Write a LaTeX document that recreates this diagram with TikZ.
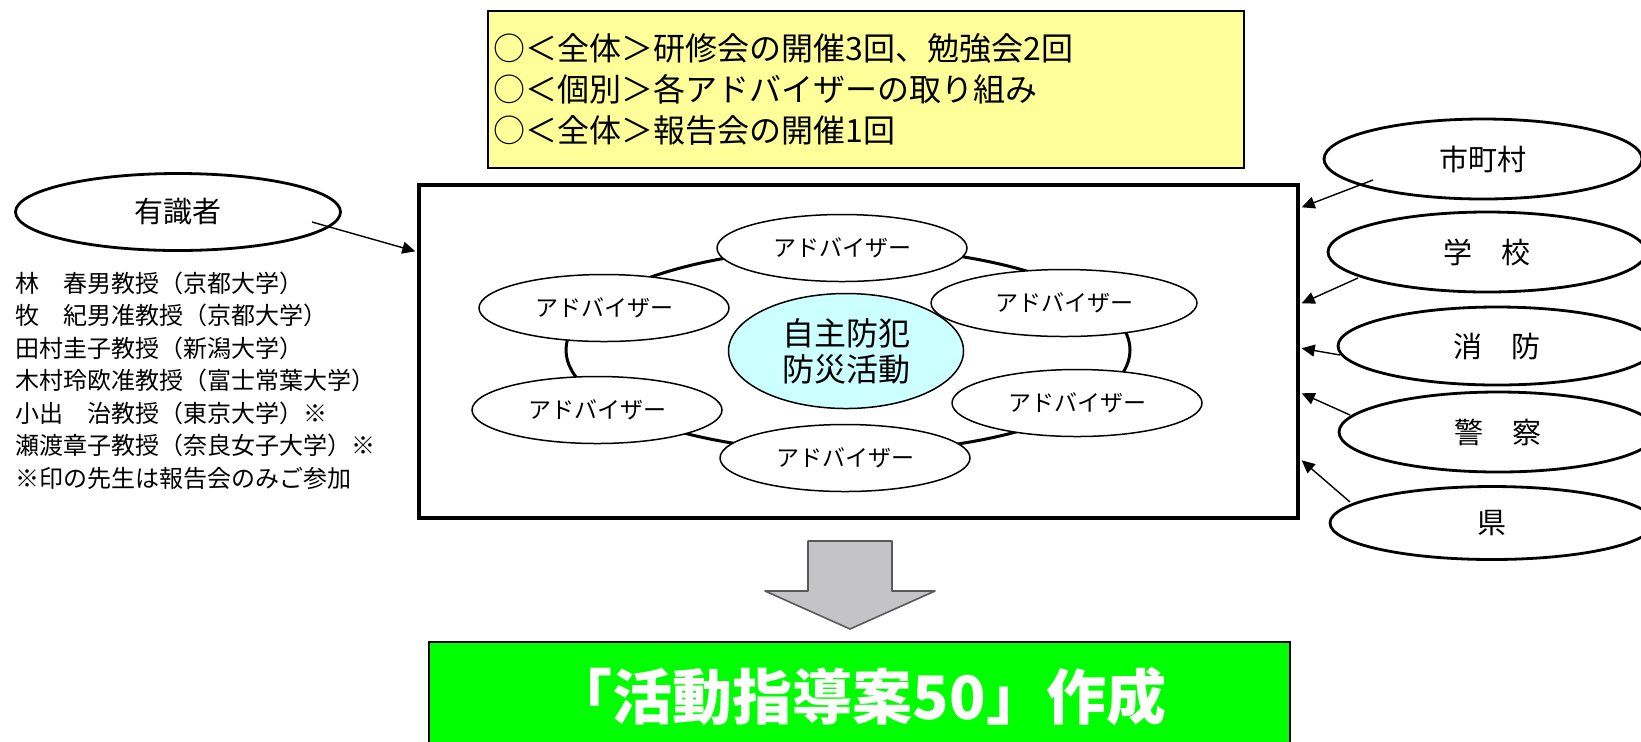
\documentclass[tikz,border=0pt]{standalone}
\usepackage{fontspec}
\setmainfont{Noto Sans CJK JP}
\usetikzlibrary{shapes.geometric,arrows.meta}

\definecolor{planyellow}{HTML}{FFFF99}
\definecolor{corecyan}{HTML}{CCFFFF}
\definecolor{resultgreen}{HTML}{00FF00}
\definecolor{arrowgray}{HTML}{C4C3C8}

\tikzset{
  adviser/.style={draw, ellipse, fill=white, line width=0.75pt, inner sep=0pt,
    minimum width=125pt, minimum height=33.5pt, font=\fontsize{11.5}{13}\selectfont},
  partner/.style={draw, ellipse, line width=1.4pt, inner sep=0pt,
    minimum width=159pt, minimum height=40pt, font=\fontsize{14.5}{16}\selectfont},
  link/.style={line width=0.7pt, -{Triangle[length=6.5pt,width=6pt]}},
}

\begin{document}
\begin{tikzpicture}[x=0.5pt, y=-0.5pt]
    \useasboundingbox (0,0) rectangle (1641,741);

    % Plan of the year
    \node[draw, fill=planyellow, line width=0.9pt, anchor=north west,
          text width=372pt, inner xsep=3pt, minimum height=78.5pt, align=left,
          font=\fontsize{16}{20.5}\selectfont] (plan) at (487,10)
          {○＜全体＞研修会の開催3回、勉強会2回\\
           ○＜個別＞各アドバイザーの取り組み\\
           ○＜全体＞報告会の開催1回};

    % Main frame
    \node[draw, line width=1.7pt, minimum width=439.5pt, minimum height=166.5pt] (frame) at (858.5,351.5) {};

    % Ring linking the advisers
    \draw[line width=1.5pt] (848,350) ellipse [x radius=141pt, y radius=51pt];

    % Advisers round the core
    \node[adviser] (advtop) at (842,248) {アドバイザー};
    \node[adviser] (advul) at (604,308) {アドバイザー};
    \node[adviser, minimum width=133pt] (advur) at (1064,303) {アドバイザー};
    \node[adviser] (advll) at (597,410) {アドバイザー};
    \node[adviser] (advlr) at (1077,403) {アドバイザー};
    \node[adviser] (advbot) at (845,458) {アドバイザー};

    \node[draw, ellipse, fill=corecyan, line width=0.75pt, inner sep=0pt,
          minimum width=117.5pt, minimum height=57.5pt, align=center,
          font=\fontsize{16}{18}\selectfont] (core) at (846,351) {自主防犯\\防災活動};

    % Experts on the left
    \node[partner, minimum width=162.5pt, minimum height=38.5pt] (expert) at (178,212) {有識者};
    \node[anchor=west, align=left, inner sep=0pt, font=\fontsize{12}{16.25}\selectfont] (members) at (15,380.5)
          {林　春男教授（京都大学）\\
           牧　紀男准教授（京都大学）\\
           田村圭子教授（新潟大学）\\
           木村玲欧准教授（富士常葉大学）\\
           小出　治教授（東京大学）※\\
           瀬渡章子教授（奈良女子大学）※\\
           ※印の先生は報告会のみご参加};

    % Partners on the right
    \node[partner] (city) at (1483,159) {市町村};
    \node[partner] (school) at (1487,252) {学　校};
    \node[partner, minimum height=39pt] (fire) at (1497,346) {消　防};
    \node[partner] (police) at (1498,432) {警　察};
    \node[partner, minimum width=162pt, minimum height=36.5pt] (pref) at (1492,523) {県};

    % Arrows into the frame
    \draw[link] ([shift={(134,10)}]expert.center) -- ([shift={(-2,68)}]frame.north west);
    \draw[link] ([shift={(-110,21)}]city.center) -- ([shift={(2,24)}]frame.north east);
    \draw[link] ([shift={(-129,26)}]school.center) -- ([shift={(2,120)}]frame.north east);
    \draw[link] ([shift={(-157,9)}]fire.center) -- ([shift={(2,165)}]frame.north east);
    \draw[link] ([shift={(-148,-17)}]police.center) -- ([shift={(2,210)}]frame.north east);
    \draw[link] ([shift={(-142,-21)}]pref.center) -- ([shift={(2,277)}]frame.north east);

    % Big gray arrow down
    \draw[fill=arrowgray, draw=gray!70!black, line width=0.8pt, line join=round]
        (808,541) -- (892,541) -- (892,591) -- (935,591) -- (850,629) -- (765,591) -- (808,591) -- cycle;

    % Result
    \node[draw, fill=resultgreen, line width=1.2pt, minimum width=430.5pt, minimum height=55pt,
          text=white, font=\fontsize{30}{32}\selectfont\bfseries] (result) at (859.5,697) {「活動指導案50」作成};
\end{tikzpicture}
\end{document}
